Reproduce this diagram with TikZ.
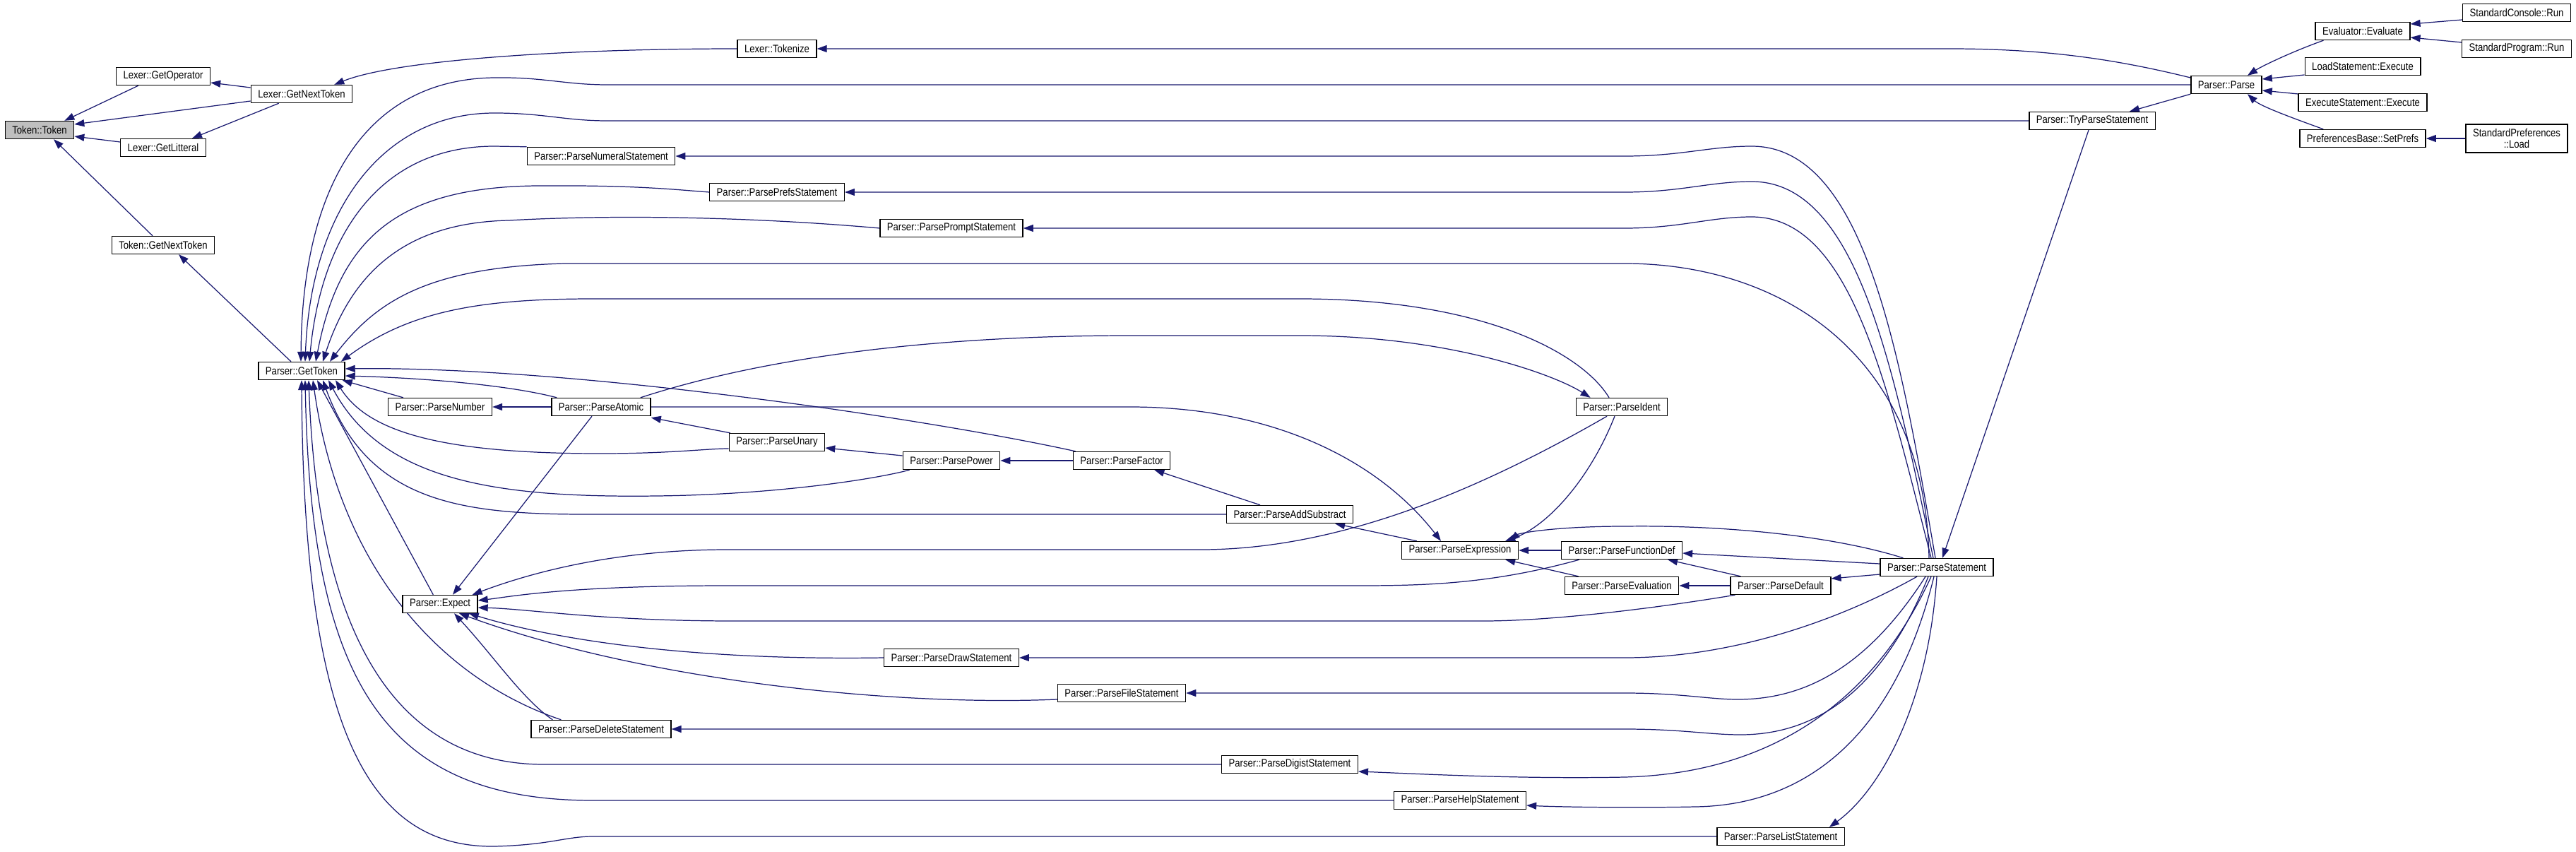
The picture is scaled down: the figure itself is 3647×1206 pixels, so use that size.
\documentclass[tikz,border=0pt]{standalone}
\usepackage{fontspec}
\setmainfont{Liberation Sans}[FakeStretch=0.853]
\usetikzlibrary{arrows.meta}
\usetikzlibrary{calc}
\definecolor{edgeblue}{RGB}{25,25,112}
\definecolor{rootgray}{RGB}{191,191,191}
\pgfdeclarelayer{bg}
\pgfsetlayers{bg,main}

\begin{document}
\begin{tikzpicture}[x=0.02cm, y=-0.02cm,
  fn/.style={draw=black, fill=white, line width=0.8pt, rectangle,
    inner xsep=0.2cm, inner ysep=0pt, minimum height=0.5cm,
    font=\fontsize{8.75}{8.6}\selectfont},
  root/.style={fn, fill=rootgray},
  call/.style={draw=edgeblue, line width=0.7pt, <-,
    >={Triangle[length=0.28cm, width=0.2cm]}}
]

\useasboundingbox (0,0) rectangle (3647,1206);

%---------------------------------------
% Lexer / token side
%---------------------------------------
\node[root] (tok)    at (56,184)  {Token::Token};
\node[fn]   (lgo)    at (231,108) {Lexer::GetOperator};
\node[fn]   (lgnt)   at (427,133) {Lexer::GetNextToken};
\node[fn]   (lgl)    at (231,209) {Lexer::GetLitteral};
\node[fn]   (tgnt)   at (231,347) {Token::GetNextToken};
\node[fn]   (gettok) at (427,525) {Parser::GetToken};
\node[fn]   (tokenize) at (1100,69) {Lexer::Tokenize};

%---------------------------------------
% Parser functions
%---------------------------------------
\node[fn] (numeral)  at (851,221)  {Parser::ParseNumeralStatement};
\node[fn] (prefs)    at (1100,272) {Parser::ParsePrefsStatement};
\node[fn] (prompt)   at (1347,323) {Parser::ParsePromptStatement};
\node[fn] (number)   at (623,576)  {Parser::ParseNumber};
\node[fn] (atomic)   at (851,576)  {Parser::ParseAtomic};
\node[fn] (unary)    at (1100,626) {Parser::ParseUnary};
\node[fn] (power)    at (1347,652) {Parser::ParsePower};
\node[fn] (factor)   at (1588,652) {Parser::ParseFactor};
\node[fn] (addsub)   at (1826,728) {Parser::ParseAddSubstract};
\node[fn] (expr)     at (2067,779) {Parser::ParseExpression};
\node[fn] (ident)    at (2296,576) {Parser::ParseIdent};
\node[fn] (funcdef)  at (2296,779) {Parser::ParseFunctionDef};
\node[fn] (evaluation) at (2296,829) {Parser::ParseEvaluation};
\node[fn] (pdefault) at (2521,829) {Parser::ParseDefault};
\node[fn] (statement) at (2742,803) {Parser::ParseStatement};
\node[fn] (expect)   at (623,855)  {Parser::Expect};
\node[fn] (drawst)   at (1347,931) {Parser::ParseDrawStatement};
\node[fn] (filest)   at (1588,981) {Parser::ParseFileStatement};
\node[fn] (deletest) at (851,1032) {Parser::ParseDeleteStatement};
\node[fn] (digist)   at (1826,1082) {Parser::ParseDigistStatement};
\node[fn] (helpst)   at (2067,1133) {Parser::ParseHelpStatement};
\node[fn] (listst)   at (2521,1184) {Parser::ParseListStatement};
\node[fn] (tryparse) at (2962,171) {Parser::TryParseStatement};
\node[fn] (parse)    at (3152,120) {Parser::Parse};

%---------------------------------------
% Callers on the right
%---------------------------------------
\node[fn] (evaluate) at (3345,44)  {Evaluator::Evaluate};
\node[fn] (loadexec) at (3345,94)  {LoadStatement::Execute};
\node[fn] (execexec) at (3345,145) {ExecuteStatement::Execute};
\node[fn] (setprefs) at (3345,196) {PreferencesBase::SetPrefs};
\node[fn] (console)  at (3563,18)  {StandardConsole::Run};
\node[fn] (program)  at (3563,69)  {StandardProgram::Run};
\node[fn, align=center, minimum height=0.8cm] (prefload) at (3563,196) {StandardPreferences\\::Load};

\begin{pgfonlayer}{bg}
  \fill[white] (0,0) rectangle (3647,1206);

  % ---- lexer ----
  \draw[call] ($(tok.north east)+(-14,0)$) -- ($(lgo.south west)+(32,0)$);
  \draw[call] ($(tok.east)+(0,-8)$) -- ($(lgnt.west)+(0,10)$);
  \draw[call] ($(tok.east)+(0,9)$) -- ($(lgl.west)+(0,-8)$);
  \draw[call] ($(tok.south)+(20,0)$) -- ($(tgnt.north)+(-15,0)$);
  \draw[call] ($(lgo.east)+(0,9)$) -- ($(lgnt.west)+(0,-9)$);
  \draw[call] ($(lgl.north east)+(-20,0)$) -- ($(lgnt.south west)+(40,0)$);
  \draw[call] ($(lgnt.north east)+(-26,0)$) .. controls (560,85) and (800,69) .. (tokenize.west);
  \draw[call] ($(tgnt.south)+(22,0)$) -- ($(gettok.north)+(-15,0)$);

  % ---- into GetToken, from above ----
  \draw[call] ($(gettok.north)+(-1,0)$) .. controls (428,260) and (520,112) .. (700,110)
      .. controls (770,109) and (800,120) .. (860,120) -- (parse.west);
  \draw[call] ($(gettok.north)+(5,0)$) .. controls (440,300) and (540,160) .. (700,160)
      .. controls (770,160) and (800,171) .. (860,171) -- (tryparse.west);
  \draw[call] ($(gettok.north)+(11,0)$) .. controls (455,330) and (540,207) .. (700,207)
      -- (numeral.north west);
  \draw[call] ($(gettok.north)+(20,0)$) .. controls (480,340) and (560,265) .. (760,263)
      .. controls (900,262) and (950,268) .. (prefs.west);
  \draw[call] ($(gettok.north)+(30,0)$) .. controls (500,380) and (580,315) .. (720,312)
      .. controls (900,302) and (1100,310) .. (prompt.west);
  \draw[call] ($(gettok.north)+(40,0)$) .. controls (530,430) and (600,378) .. (800,373)
      -- (2300,373) .. controls (2520,373) and (2725,500) .. ($(statement.north)+(-11,0)$);
  \draw[call] ($(gettok.north east)+(-6,0)$) .. controls (580,440) and (680,423) .. (840,423)
      -- (1840,423) .. controls (2100,423) and (2240,500) .. ($(ident.north)+(-18,0)$);

  % ---- into GetToken, from the right and below ----
  \draw[call] ($(gettok.east)+(0,-3)$) .. controls (800,518) and (1300,590) .. ($(factor.north west)+(4,0)$);
  \draw[call] ($(gettok.east)+(0,7)$) .. controls (600,535) and (720,545) .. ($(atomic.north west)+(8,0)$);
  \draw[call] ($(gettok.south east)+(-4,0)$) -- ($(number.north west)+(22,0)$);
  \draw[call] ($(gettok.south)+(48,0)$) .. controls (520,610) and (620,642) .. (850,642)
      .. controls (950,642) and (1000,635) .. ($(unary.west)+(0,9)$);
  \draw[call] ($(gettok.south)+(38,0)$) .. controls (540,680) and (700,705) .. (930,702)
      .. controls (1100,700) and (1240,678) .. ($(power.south west)+(10,0)$);
  \draw[call] ($(gettok.south)+(30,0)$) .. controls (520,710) and (650,728) .. (830,728) -- (addsub.west);
  \draw[call] ($(gettok.south)+(22,0)$) -- ($(expect.north west)+(44,0)$);
  \draw[call] ($(gettok.south)+(16,0)$) .. controls (480,800) and (620,960) .. ($(deletest.north west)+(43,0)$);
  \draw[call] ($(gettok.south)+(10,0)$) .. controls (450,900) and (560,1082) .. (770,1082) -- (digist.west);
  \draw[call] ($(gettok.south)+(5,0)$) .. controls (440,960) and (540,1133) .. (840,1133) -- (helpst.west);
  \draw[call] (gettok.south) .. controls (430,1030) and (520,1200) .. (700,1198)
      .. controls (780,1196) and (800,1184) .. (840,1184) -- (listst.west);

  % ---- expression chain ----
  \draw[call] (number.east) -- (atomic.west);
  \draw[call] ($(atomic.south east)+(0,2)$) -- ($(unary.north west)+(2,0)$);
  \draw[call] ($(ident.north west)+(21,0)$) .. controls (2200,530) and (2050,475) .. (1840,475)
      -- (1600,475) .. controls (1350,475) and (1100,500) .. ($(atomic.north east)+(-15,0)$);
  \draw[call] ($(expr.north)+(-27,0)$) .. controls (1950,650) and (1800,576) .. (1600,576) -- (atomic.east);
  \draw[call] ($(expect.north)+(18,0)$) -- ($(atomic.south)+(-13,0)$);
  \draw[call] ($(unary.east)+(0,8)$) -- ($(power.west)+(0,-7)$);
  \draw[call] (power.east) -- (factor.west);
  \draw[call] ($(factor.south east)+(-23,0)$) -- ($(addsub.north)+(-42,0)$);
  \draw[call] ($(addsub.south east)+(-26,0)$) -- ($(expr.north west)+(22,0)$);
  \draw[call] ($(expr.north east)+(-19,0)$) .. controls (2190,745) and (2250,680) .. ($(ident.south)+(-10,0)$);
  \draw[call] ($(expect.north east)+(-8,0)$) .. controls (780,800) and (900,778) .. (1030,778)
      -- (1700,778) .. controls (1900,778) and (2100,690) .. ($(ident.south)+(-21,0)$);
  \draw[call] (expr.east) -- (funcdef.west);
  \draw[call] ($(expr.south east)+(-19,0)$) -- ($(evaluation.north west)+(20,0)$);
  \draw[call] ($(expr.north east)+(-12,0)$) .. controls (2150,755) and (2200,745) .. (2300,745)
      .. controls (2450,743) and (2600,760) .. ($(statement.north west)+(33,0)$);
  \draw[call] ($(funcdef.east)+(0,4)$) -- ($(statement.west)+(0,-5)$);
  \draw[call] ($(funcdef.south east)+(-21,0)$) -- ($(pdefault.north west)+(15,0)$);
  \draw[call] ($(pdefault.east)+(0,-10)$) -- ($(statement.west)+(0,10)$);
  \draw[call] (evaluation.east) -- (pdefault.west);

  % ---- into Expect ----
  \draw[call] ($(expect.east)+(0,-5)$) .. controls (720,845) and (800,829) .. (1030,829)
      -- (1900,829) .. controls (2000,829) and (2100,830) .. ($(funcdef.south west)+(26,0)$);
  \draw[call] ($(expect.east)+(0,5)$) .. controls (750,862) and (850,879) .. (1040,879)
      -- (2100,879) .. controls (2200,879) and (2350,860) .. ($(pdefault.south west)+(7,0)$);
  \draw[call] ($(expect.south east)+(-13,0)$) .. controls (800,910) and (1000,935) .. (drawst.west);
  \draw[call] ($(expect.south)+(27,0)$) .. controls (900,960) and (1250,1000) .. ($(filest.west)+(0,9)$);
  \draw[call] ($(expect.south)+(20,0)$) .. controls (700,930) and (740,990) .. ($(deletest.north west)+(31,0)$);

  % ---- statements called from ParseStatement ----
  \draw[call] (drawst.east) -- (2300,931) .. controls (2450,931) and (2600,880) .. ($(statement.south)+(-28,0)$);
  \draw[call] (filest.east) -- (2300,981) .. controls (2380,981) and (2420,990) .. (2460,990)
      .. controls (2550,990) and (2640,950) .. ($(statement.south)+(-16,0)$);
  \draw[call] (deletest.east) -- (2300,1032) .. controls (2380,1032) and (2420,1040) .. (2464,1040)
      .. controls (2560,1040) and (2660,990) .. ($(statement.south)+(-12,0)$);
  \draw[call] ($(digist.east)+(0,10)$) .. controls (2000,1095) and (2150,1103) .. (2300,1100)
      .. controls (2500,1095) and (2650,1000) .. ($(statement.south)+(-8,0)$);
  \draw[call] ($(helpst.east)+(0,7)$) .. controls (2200,1142) and (2300,1144) .. (2400,1142)
      .. controls (2550,1140) and (2680,1050) .. ($(statement.south)+(-4,0)$);
  \draw[call] ($(listst.north east)+(-22,0)$) .. controls (2660,1120) and (2730,1000) .. (statement.south);
  \draw[call] (numeral.east) -- (2300,221) .. controls (2380,221) and (2420,207) .. (2480,207)
      .. controls (2640,207) and (2690,500) .. ($(statement.north)+(-2,0)$);
  \draw[call] (prefs.east) -- (2300,272) .. controls (2380,272) and (2420,257) .. (2480,257)
      .. controls (2630,257) and (2680,520) .. ($(statement.north)+(-5,0)$);
  \draw[call] (prompt.east) -- (2300,323) .. controls (2380,323) and (2420,307) .. (2480,307)
      .. controls (2620,307) and (2670,540) .. ($(statement.north)+(-8,0)$);

  % ---- Parse and its callers ----
  \draw[call] ($(statement.north)+(8,0)$) -- ($(tryparse.south)+(-5,0)$);
  \draw[call] ($(tryparse.north east)+(-37,0)$) -- (parse.south west);
  \draw[call] (tokenize.east) -- (2760,69) .. controls (2900,69) and (3000,85) .. ($(parse.west)+(0,-10)$);
  \draw[call] ($(parse.north)+(30,0)$) .. controls (3200,95) and (3240,75) .. ($(evaluate.south west)+(12,0)$);
  \draw[call] ($(parse.east)+(0,-8)$) -- ($(loadexec.west)+(0,12)$);
  \draw[call] ($(parse.east)+(0,8)$) -- ($(execexec.west)+(0,-12)$);
  \draw[call] ($(parse.south)+(30,0)$) .. controls (3200,150) and (3240,165) .. ($(setprefs.north west)+(34,0)$);
  \draw[call] ($(evaluate.east)+(0,-10)$) -- ($(console.west)+(0,10)$);
  \draw[call] ($(evaluate.east)+(0,9)$) -- ($(program.west)+(0,-9)$);
  \draw[call] (setprefs.east) -- (prefload.west);
\end{pgfonlayer}

\end{tikzpicture}
\end{document}
